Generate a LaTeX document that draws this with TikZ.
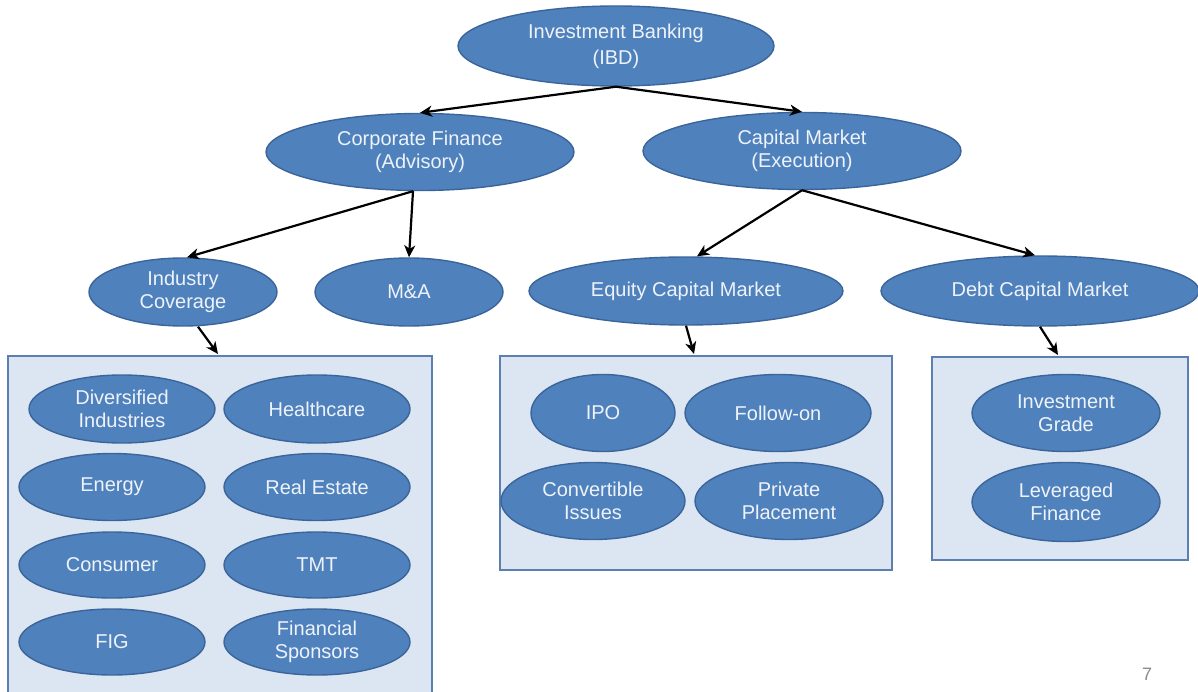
\documentclass[tikz,border=0pt]{standalone}
\usepackage{fontspec}
\setmainfont{Liberation Sans}
\usetikzlibrary{shapes.geometric,arrows.meta}
\definecolor{ovfill}{HTML}{4F81BD}
\definecolor{ovline}{HTML}{3B659A}
\definecolor{ovtext}{HTML}{EEF3FA}
\definecolor{boxfill}{HTML}{DCE6F2}
\definecolor{boxline}{HTML}{5B7FB0}
\begin{document}
\begin{tikzpicture}[x=1pt,y=-1pt,
  ov/.style={ellipse,draw=ovline,line width=1.4pt,fill=ovfill,text=ovtext,inner sep=0pt,
    align=center,font=\fontsize{20}{23.5}\selectfont},
  grp/.style={draw=boxline,line width=1.4pt,fill=boxfill},
  conn/.style={draw=black,line width=2.2pt,-{Stealth[length=12pt,width=11pt,inset=3.5pt]}}]
\useasboundingbox (0,0) rectangle (1198,692);
\fill[white] (0,0) rectangle (1198,692);
% group boxes
\draw[grp] (8,356) rectangle (432,694);
\draw[grp] (500,356) rectangle (892,570);
\draw[grp] (932,357) rectangle (1188,560);
\coordinate (boxA) at (218,354);
\coordinate (boxB) at (694,354);
\coordinate (boxC) at (1058,355);
% main ellipses
\node[ov,font=\fontsize{20}{26}\selectfont,minimum width=316pt,minimum height=80pt] (ibd) at (616,46) {Investment Banking\\(IBD)};
\node[ov,minimum width=308pt,minimum height=77pt] (cf) at (420,152) {Corporate Finance\\(Advisory)};
\node[ov,minimum width=318pt,minimum height=77pt] (cm) at (802,151) {Capital Market\\(Execution)};
\node[ov,minimum width=188pt,minimum height=68pt] (ic) at (183,292) {Industry\\Coverage};
\node[ov,minimum width=188pt,minimum height=68pt] (ma) at (409,292) {M\&A};
\node[ov,minimum width=314pt,minimum height=68pt] (ecm) at (686,291) {Equity Capital Market};
\node[ov,minimum width=318pt,minimum height=70pt] (dcm) at (1040,291) {Debt Capital Market};
% industry ellipses
\node[ov,minimum width=186pt,minimum height=68pt] (div) at (122,409) {Diversified\\Industries};
\node[ov,minimum width=186pt,minimum height=68pt] (hc) at (317,409) {Healthcare};
\node[ov,minimum width=186pt,minimum height=67pt] (en) at (112,487) {Energy};
\node[ov,minimum width=186pt,minimum height=67pt] (re) at (317,487) {Real Estate};
\node[ov,minimum width=186pt,minimum height=66pt] (con) at (112,565) {Consumer};
\node[ov,minimum width=186pt,minimum height=66pt] (tmt) at (317,565) {TMT};
\node[ov,minimum width=186pt,minimum height=66pt] (fig) at (112,642) {FIG};
\node[ov,minimum width=186pt,minimum height=66pt] (fs) at (317,642) {Financial\\Sponsors};
% ECM ellipses
\node[ov,minimum width=144pt,minimum height=77pt] (ipo) at (603,413) {IPO};
\node[ov,minimum width=186pt,minimum height=77pt] (fo) at (778,413) {Follow-on};
\node[ov,minimum width=184pt,minimum height=77pt] (ci) at (593,501) {Convertible\\Issues};
\node[ov,minimum width=188pt,minimum height=77pt] (pp) at (789,501) {Private\\Placement};
% DCM ellipses
\node[ov,minimum width=188pt,minimum height=77pt] (ig) at (1066,413) {Investment\\Grade};
\node[ov,minimum width=188pt,minimum height=79pt] (lf) at (1066,502) {Leveraged\\Finance};
% connectors
\draw[conn] (ibd.south) -- (cf.north);
\draw[conn] (ibd.south) -- (cm.north);
\draw[conn] ([xshift=-7pt]cf.south) -- ([xshift=4pt]ic.north);
\draw[conn] ([xshift=-7pt]cf.south) -- (ma.north);
\draw[conn] (cm.south) -- ([xshift=11pt]ecm.north);
\draw[conn] (cm.south) -- ([xshift=-5pt]dcm.north);
\draw[conn] ([xshift=15pt]ic.south) -- (boxA);
\draw[conn] (ecm.south) -- (boxB);
\draw[conn] (dcm.south) -- (boxC);
% page number
\node[text=black!45,font=\fontsize{18}{20}\selectfont] (pg) at (1147,674) {7};
\end{tikzpicture}
\end{document}
